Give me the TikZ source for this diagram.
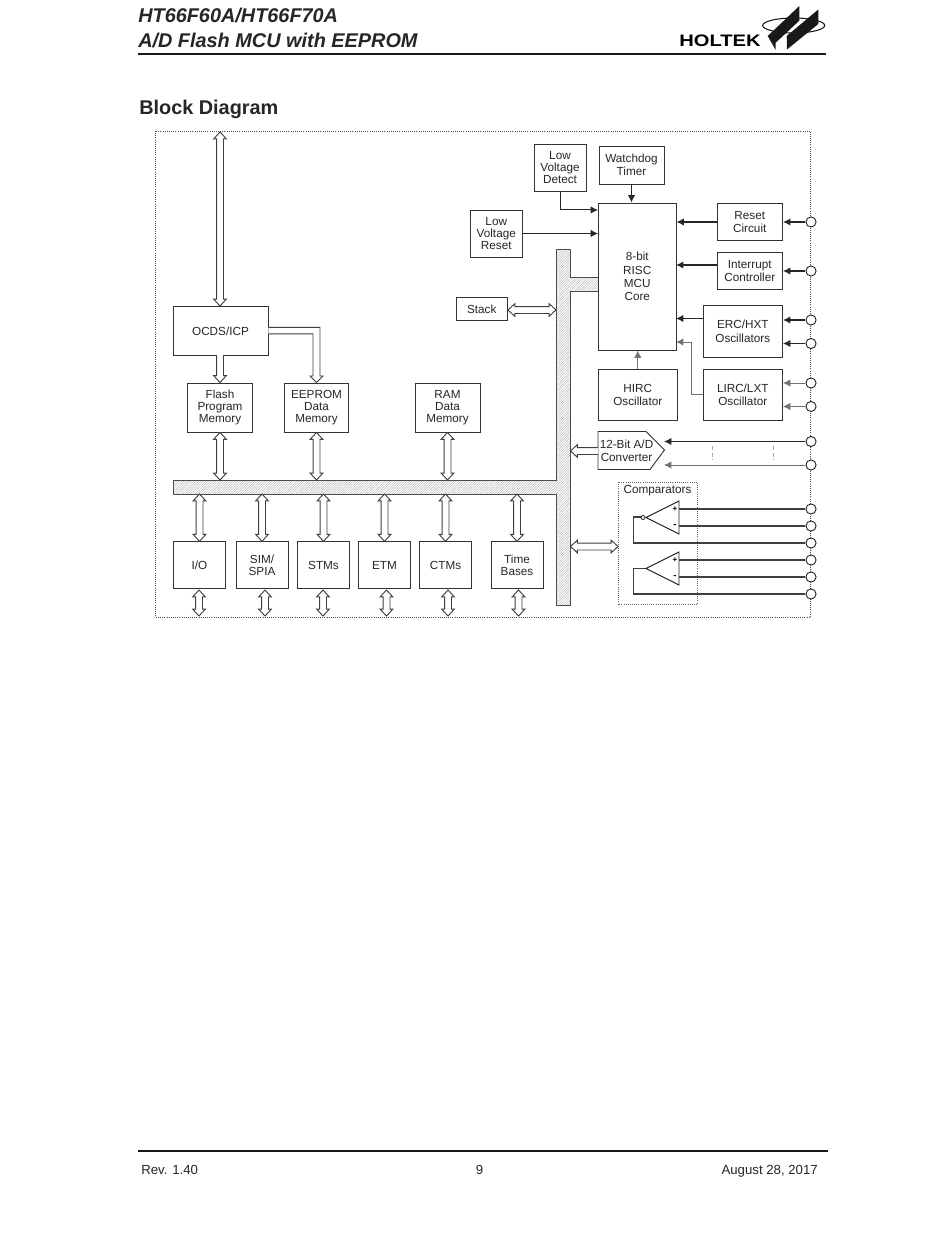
\documentclass[tikz,border=0pt]{standalone}
\usepackage{fontspec}
\setmainfont{Liberation Sans}
\usetikzlibrary{arrows.meta,patterns.meta,calc}
\tikzset{
    blk/.style={draw=black!80,line width=.7pt,align=center,inner sep=0pt,text=black!85,font=\fontsize{8.8}{9.2}\selectfont},
    blkloose/.style={blk,font=\fontsize{8.8}{10}\selectfont},
    busline/.style={draw=black!75,fill=white,line width=.7pt,line join=miter},
    bus/.style={busline,to path={
        -- ($(\tikztostart)!5.2pt!(\tikztotarget)!4.8pt!90:(\tikztotarget)$)
        -- ($(\tikztostart)!5.2pt!(\tikztotarget)!2.6pt!90:(\tikztotarget)$)
        -- ($(\tikztotarget)!5.2pt!(\tikztostart)!2.6pt!-90:(\tikztostart)$)
        -- ($(\tikztotarget)!5.2pt!(\tikztostart)!4.8pt!-90:(\tikztostart)$)
        -- (\tikztotarget)
        -- ($(\tikztotarget)!5.2pt!(\tikztostart)!4.8pt!90:(\tikztostart)$)
        -- ($(\tikztotarget)!5.2pt!(\tikztostart)!2.6pt!90:(\tikztostart)$)
        -- ($(\tikztostart)!5.2pt!(\tikztotarget)!2.6pt!-90:(\tikztotarget)$)
        -- ($(\tikztostart)!5.2pt!(\tikztotarget)!4.8pt!-90:(\tikztotarget)$)
        -- cycle}},
    busone/.style={busline,to path={
        ($(\tikztostart)!2.6pt!90:(\tikztotarget)$)
        -- ($(\tikztotarget)!5.2pt!(\tikztostart)!2.6pt!-90:(\tikztostart)$)
        -- ($(\tikztotarget)!5.2pt!(\tikztostart)!4.8pt!-90:(\tikztostart)$)
        -- (\tikztotarget)
        -- ($(\tikztotarget)!5.2pt!(\tikztostart)!4.8pt!90:(\tikztostart)$)
        -- ($(\tikztotarget)!5.2pt!(\tikztostart)!2.6pt!90:(\tikztostart)$)
        -- ($(\tikztostart)!2.6pt!-90:(\tikztotarget)$)}},
    sig/.style={draw=black!85,line width=.95pt,-{Latex[length=5.5pt,width=5.5pt]}},
    sigmid/.style={sig,line width=.75pt},
    sigthin/.style={draw=black!55,line width=.7pt,-{Latex[length=5.5pt,width=5.5pt]}},
    wire/.style={draw=black!75,line width=.8pt},
    pin/.style={circle,draw=black!85,fill=white,line width=.7pt,minimum size=7.6pt,inner sep=0pt},
    frame/.style={draw=black!70,line width=.6pt,densely dotted},
    opamp/.style={draw=black!85,line width=.7pt,fill=white},
    hatch/.style={draw=black!70,line width=.7pt,pattern={Lines[angle=45,distance=1.3pt,line width=.25pt]},pattern color=black!35},
    foot/.style={font=\fontsize{9.9}{9.9}\selectfont,inner sep=0pt,text=black!85},
    headfont/.style={anchor=base west,inner sep=0pt,text=black!85,font=\fontsize{14.9}{14.9}\selectfont\bfseries\itshape},
}
% a box given by its centre and its size in pixels of the sheet
\newcommand{\blkat}[6][blk]{\node[#1,minimum width=#4*.75pt,minimum height=#5*.75pt] (#2) at (#3) {#6};}
\begin{document}
\begin{tikzpicture}[x=.75pt,y=-.75pt]
    \useasboundingbox (0,0) rectangle (950,1241);
    \fill[white] (0,0) rectangle (950,1241);

    % page head and foot
    \node[headfont] (title1) at (138,23) {HT66F60A/HT66F70A};
    \node[headfont] (title2) at (138,47.5) {A/D Flash MCU with EEPROM};
    \draw[line width=1.5pt,black!90] (138,54.5) -- (826,54.5);
    \node[anchor=base west,inner sep=0pt,font=\fontsize{14.9}{14.9}\selectfont\bfseries,text=black!85] (heading) at (139,114.5) {Block Diagram};
    \draw[line width=1.1pt,black!90] (138,1151) -- (828,1151);
    \node[foot,anchor=base west] (rev) at (141,1174) {Rev. 1.40};
    \node[foot,anchor=base] (pageno) at (479.5,1174) {9};
    \node[foot,anchor=base east] (date) at (818,1174) {August 28, 2017};

    % logo
    \node[anchor=base west,inner sep=0pt,font=\fontsize{12.5}{12.5}\selectfont\bfseries] (holtek) at (679,46.5) {\scalebox{1.21}[1]{HOLTEK}};
    \draw[line width=.8pt,black!90] (793.7,25.5) ellipse (31 and 7.5);
    \fill[black!90] (767.7,36) -- (799.3,6) -- (799.3,20.7) -- (775.7,42.7) -- (775.7,50) -- cycle;
    \fill[black!90] (786.7,36) -- (818.3,9.5) -- (818.3,24) -- (794.3,43.5) -- (787,49.5) -- cycle;

    % outer frame
    \draw[frame] (155.5,131) rectangle (810.5,617);

    % internal bus
    \draw[hatch] (173,480) -- (556,480) -- (556,249) -- (570,249) -- (570,277) -- (598.5,277) -- (598.5,291) -- (570,291) -- (570,605) -- (556,605) -- (556,494) -- (173,494) -- cycle;
    \coordinate (bustop) at (220,480);

    % blocks
    \blkat{ocds}{220.5,331}{95}{49}{OCDS/ICP}
    \blkat{flash}{220,407.5}{64.5}{49}{Flash\\Program\\Memory}
    \blkat{eeprom}{316.5,407.5}{64.5}{49}{EEPROM\\Data\\Memory}
    \blkat{ram}{447.5,407.5}{65}{49}{RAM\\Data\\Memory}
    \blkat{io}{199.5,565}{52}{46.5}{I/O}
    \blkat{sim}{262,565}{52}{46.5}{SIM/\\SPIA}
    \blkat{stms}{323.5,565}{52}{46.5}{STMs}
    \blkat{etm}{384.5,565}{52}{46.5}{ETM}
    \blkat{ctms}{445.5,565}{52}{46.5}{CTMs}
    \blkat{tb}{517,565}{52}{46.5}{Time\\Bases}
    \blkat{lvd}{560,167.75}{52}{47.5}{Low\\Voltage\\Detect}
    \blkat[blkloose]{wdt}{631.5,165}{65}{38}{Watchdog\\Timer}
    \blkat{lvr}{496.25,233.5}{51.5}{47}{Low\\Voltage\\Reset}
    \blkat[blkloose]{mcu}{637.25,276.5}{77.5}{147}{8-bit\\RISC\\MCU\\Core}
    \blkat[blkloose]{reset}{749.75,222}{65.5}{37}{Reset\\Circuit}
    \blkat[blkloose]{intc}{749.75,271}{65.5}{37}{Interrupt\\Controller}
    \blkat[blkloose]{erc}{742.75,331.25}{79.5}{51.5}{ERC/HXT\\Oscillators}
    \blkat[blkloose]{lirc}{742.75,394.75}{79.5}{51.5}{LIRC/LXT\\Oscillator}
    \blkat[blkloose]{hirc}{637.75,394.75}{78.5}{51.5}{HIRC\\Oscillator}
    \blkat{stack}{481.75,309}{51.5}{23.5}{Stack}

    % A/D converter
    \draw[blk] (598,431.5) -- (646,431.5) -- (664.5,450) -- (650,469.5) -- (598,469.5) -- cycle;
    \node[blkloose,draw=none] (adc) at (626.5,450.5) {12-Bit A/D\\Converter};
    \coordinate (adcw) at (598,451);
    \coordinate (adctip1) at (664,441.5);
    \coordinate (adctip2) at (664,465);

    % pins
    \foreach \n/\y in {a/222,b/271,c/320,d/343.5,e/383,f/406.5,g/441.5,h/465,i/509,j/526,k/543,l/560,m/577,n/594}
        \node[pin] (pin\n) at (811,\y) {};

    % double lines
    \coordinate (frametop) at (220,132);
    \draw[bus] (frametop) to (220,306);
    \draw[busone] (220,355) to (220,382.5);
    \draw[busline] (ocds.east |- 0,327.3) -- (320,327.3) -- (320,376) -- (323,376) -- (316.5,382.5) -- (310,376) -- (313,376) -- (313,333.8) -- (ocds.east |- 0,333.8);
    \foreach \n in {flash,eeprom,ram}
        \draw[bus] (\n.south) to (\n.south |- bustop);
    \foreach \n in {io,sim,stms,etm,ctms,tb}
        \draw[bus] (\n.north) to (\n.north |- 0,494);
    \foreach \n/\x in {io/199,sim/265,stms/323,etm/386.5,ctms/448,tb/518.5}
        \draw[bus] (\x,590) to (\x,616);
    \draw[bus] (stack.east |- 0,310) to (556,310);
    \draw[busone] (adcw) to (570.5,451);
    \draw[bus] (570.5,546.5) to (618,546.5);

    % signals
    \draw[sig] (wdt.south) -- (mcu.north -| wdt.south);
    \draw[sigmid] (lvd.south) |- (598,210);
    \draw[sigmid] (lvr.east) -- (598,233.5);
    \draw[sig] (reset.west) -- (mcu.east |- reset.west);
    \draw[sig] (717,265) -- (676,265);
    \draw[sig] (erc.west |- 0,318.5) -- (676,318.5);
    \draw[sigthin] (lirc.west) -| (691,342) -- (676,342);
    \draw[sigthin] (hirc.north) -- (mcu.south -| hirc.north);
    \draw[sig] (pina) -- (reset.east);
    \draw[sig] (pinb) -- (intc.east);
    \draw[sig] (pinc) -- (erc.east |- pinc);
    \draw[sig] (pind) -- (erc.east |- pind);
    \draw[sigthin] (pine) -- (lirc.east |- pine);
    \draw[sigthin] (pinf) -- (lirc.east |- pinf);
    \draw[sig] (ping) -- (adctip1);
    \draw[sigthin] (pinh) -- (adctip2);
    \foreach \x in {712,773}
        \draw[black!35,line width=.5pt,densely dashed] (\x,446) -- (\x,460);

    % comparators
    \draw[frame,black!60] (618,482) rectangle (697,604.5);
    \node[blk,draw=none] (cmplabel) at (657.5,491) {Comparators};
    \draw[wire] (679,509) -- (pini);
    \draw[wire] (679,526) -- (pinj);
    \draw[wire] (679,560) -- (pinl);
    \draw[wire] (679,577) -- (pinm);
    \draw[wire] (641,517) -- (633.5,517) |- (pink);
    \draw[wire] (646,568.5) -- (633.5,568.5) |- (pinn);
    \draw[opamp] (646,517.5) -- (679,501) -- (679,534) -- cycle;
    \draw[opamp] (646,568.5) -- (679,552) -- (679,585) -- cycle;
    \node[circle,draw=black!85,fill=white,line width=.6pt,minimum size=3pt,inner sep=0pt] (bubble) at (643,517.5) {};
    \foreach \y in {509,560}
        \node[font=\fontsize{6}{6}\selectfont\bfseries,inner sep=0pt] at (675,\y) {+};
    \foreach \y in {526,577}
        \node[font=\fontsize{7}{7}\selectfont\bfseries,inner sep=0pt] at (675,\y) {-};
\end{tikzpicture}
\end{document}
